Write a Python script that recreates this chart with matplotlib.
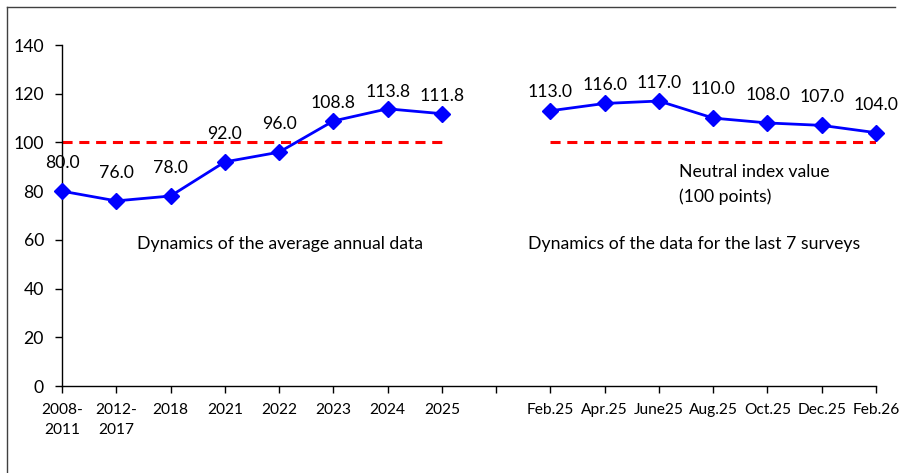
import numpy as np
import matplotlib.pyplot as plt
from matplotlib.lines import Line2D

plt.rcParams['font.family'] = ['Lato', 'DejaVu Sans']

# categories (empty slot between the two groups)
annual_labels = ['2008-\n2011', '2012-\n2017', '2018', '2021', '2022', '2023', '2024', '2025']
survey_labels = ['Feb.25', 'Apr.25', 'June25', 'Aug.25', 'Oct.25', 'Dec.25', 'Feb.26']
annual_values = [80.0, 76.0, 78.0, 92.0, 96.0, 108.8, 113.8, 111.8]
survey_values = [113.0, 116.0, 117.0, 110.0, 108.0, 107.0, 104.0]
neutral = 100

# label lift above each marker, in pixels (style only)
annual_lift = [28, 28, 28, 28, 28, 18, 17, 18]
survey_lift = [19, 18, 18, 29, 28, 28, 28]

tick_labels = annual_labels + [''] + survey_labels
x_annual = np.arange(len(annual_labels))
x_survey = np.arange(len(survey_labels)) + len(annual_labels) + 1

fig = plt.figure(figsize=(9.01, 4.73), dpi=100)
ax = fig.add_axes([62 / 901, 1 - 386 / 473, (876 - 62) / 901, (386 - 45) / 473])

# neutral line
for xs in (x_annual, x_survey):
    ax.plot([xs[0], xs[-1]], [neutral, neutral], color='#ff0000', lw=2.2,
            ls=(0, (3.3, 2.2)), zorder=1)

for xs, vals, lift in ((x_annual, annual_values, annual_lift),
                       (x_survey, survey_values, survey_lift)):
    ax.plot(xs, vals, color='#0000ff', lw=2, marker='D', markersize=8,
            zorder=3, clip_on=False)
    for x, v, d in zip(xs, vals, lift):
        ax.annotate(f'{v:.1f}', (x, v), xytext=(0, d), textcoords='offset pixels',
                    ha='center', va='center', fontsize=12.7)

ax.text(4.02, 58.3, 'Dynamics of the average annual data', ha='center', va='center', fontsize=12.7)
ax.text(11.65, 58.3, 'Dynamics of the data for the last 7 surveys', ha='center', va='center', fontsize=12.7)
ax.text(11.37, 88, 'Neutral index value', ha='left', va='center', fontsize=12.7)
ax.text(11.37, 77.7, '(100 points)', ha='left', va='center', fontsize=12.7)

ax.set_xlim(0, len(tick_labels) - 1)
ax.set_ylim(0, 140)
ax.set_xticks(np.arange(len(tick_labels)))
ax.set_xticklabels(tick_labels, fontsize=11.2)
for lab in ax.get_xticklabels():
    lab.set_linespacing(1.55)
ax.set_yticks(np.arange(0, 141, 20))
ax.tick_params(axis='y', labelsize=12.7, length=5, width=1, pad=8)
ax.tick_params(axis='x', length=5, width=1, pad=7)
for s in ('top', 'right'):
    ax.spines[s].set_visible(False)
for s in ('left', 'bottom'):
    ax.spines[s].set_linewidth(1)

# outer chart border (left and top only visible)
fig.add_artist(Line2D([7 / 901, 7 / 901], [0, 1 - 7 / 473], transform=fig.transFigure,
                      color='#404040', lw=1))
fig.add_artist(Line2D([7 / 901, 895 / 901], [1 - 7 / 473, 1 - 7 / 473], transform=fig.transFigure,
                      color='#404040', lw=1))

fig.savefig('out.png', dpi=100)
